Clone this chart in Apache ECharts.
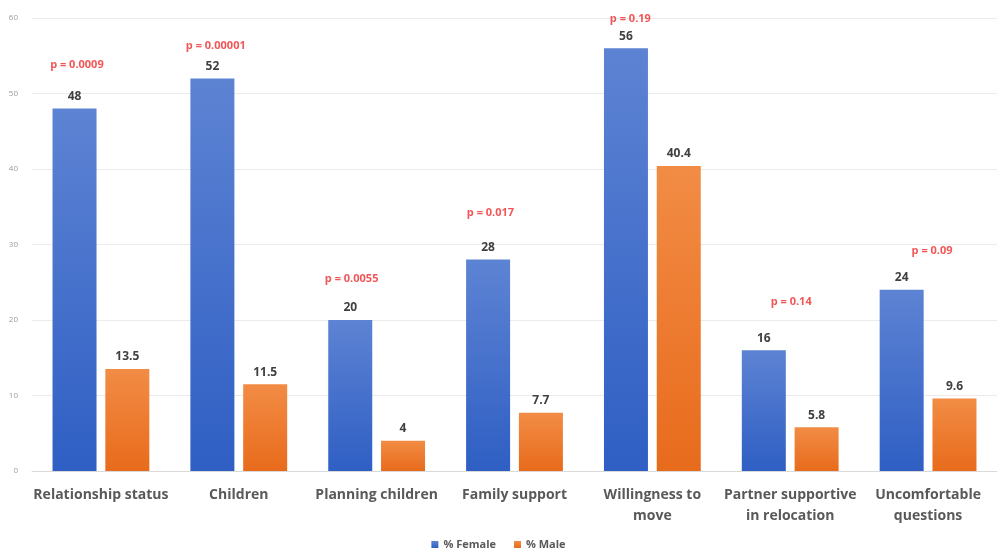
<!DOCTYPE html>
<html>
<head>
<meta charset="utf-8">
<script src="https://cdn.jsdelivr.net/npm/echarts@6/dist/echarts.min.js"></script>
<style>
  html, body { margin: 0; padding: 0; background: #fff; }
  #chart { width: 997px; height: 552px; }
</style>
</head>
<body>
<div id="chart"></div>
<script>
// chart data
const categories = ['Relationship status', 'Children', 'Planning children', 'Family support',
  'Willingness to\nmove', 'Partner supportive\nin relocation', 'Uncomfortable\nquestions']
const female = [48, 52, 20, 28, 56, 16, 24]
const male = [13.5, 11.5, 4, 7.7, 40.4, 5.8, 9.6]
const pValues = ['p = 0.0009', 'p = 0.00001', 'p = 0.0055', 'p = 0.017', 'p = 0.19', 'p = 0.14', 'p = 0.09']

// where each p label sits relative to the top of the female bar (px)
const pOffsets = [[-24, -44], [-23, -33], [-25, -41], [-24, -47], [-22, -29], [1, -48], [4, -39]]

const font = '"Open Sans", "Noto Sans", sans-serif'

const chart = echarts.init(document.getElementById('chart'))

const grad = (top, bottom) => new echarts.graphic.LinearGradient(0, 0, 0, 1, [
  { offset: 0, color: top },
  { offset: 1, color: bottom }
])

const valueLabel = {
  show: true,
  position: 'top',
  distance: 6,
  color: '#404040',
  fontFamily: font,
  fontWeight: 'bold',
  fontSize: 12
}

const option = {
  animation: false,
  grid: {
    left: 32,
    width: 975,
    top: 18,
    bottom: 81
  },
  legend: {
    bottom: -3,
    left: 'center',
    itemWidth: 7,
    itemHeight: 7,
    itemGap: 18,
    icon: 'rect',
    data: ['% Female', '% Male'],
    textStyle: { color: '#595959', fontFamily: font, fontWeight: 'bold', fontSize: 11 }
  },
  xAxis: {
    type: 'category',
    data: categories,
    axisTick: { show: false },
    axisLine: { lineStyle: { color: '#d9d9d9' } },
    axisLabel: {
      interval: 0,
      margin: 14,
      color: '#595959',
      fontFamily: font,
      fontWeight: 'bold',
      fontSize: 14,
      lineHeight: 21
    }
  },
  yAxis: {
    type: 'value',
    min: 0,
    max: 60,
    interval: 10,
    axisLine: { show: false },
    axisTick: { show: false },
    axisLabel: { color: '#9a9a9a', fontSize: 8, margin: 14, fontFamily: font },
    splitLine: { lineStyle: { color: '#ebebeb' } }
  },
  series: [
    {
      name: '% Female',
      type: 'bar',
      data: female,
      barWidth: 44,
      barGap: '20%',
      itemStyle: { color: grad('#5d83d3', '#2f5fc4') },
      label: valueLabel
    },
    {
      name: '% Male',
      type: 'bar',
      data: male,
      barWidth: 44,
      itemStyle: { color: grad('#f28c45', '#e86b1c') },
      label: valueLabel
    },
    {
      name: 'p',
      type: 'scatter',
      symbolSize: 0,
      silent: true,
      data: female.map((v, i) => ({
        value: v,
        label: { offset: pOffsets[i] }
      })),
      label: {
        show: true,
        position: 'inside',
        formatter: p => pValues[p.dataIndex],
        color: '#ee2a2a',
        fontFamily: font,
        fontWeight: 'bold',
        fontSize: 11
      }
    }
  ]
}

chart.setOption(option)
</script>
</body>
</html>
